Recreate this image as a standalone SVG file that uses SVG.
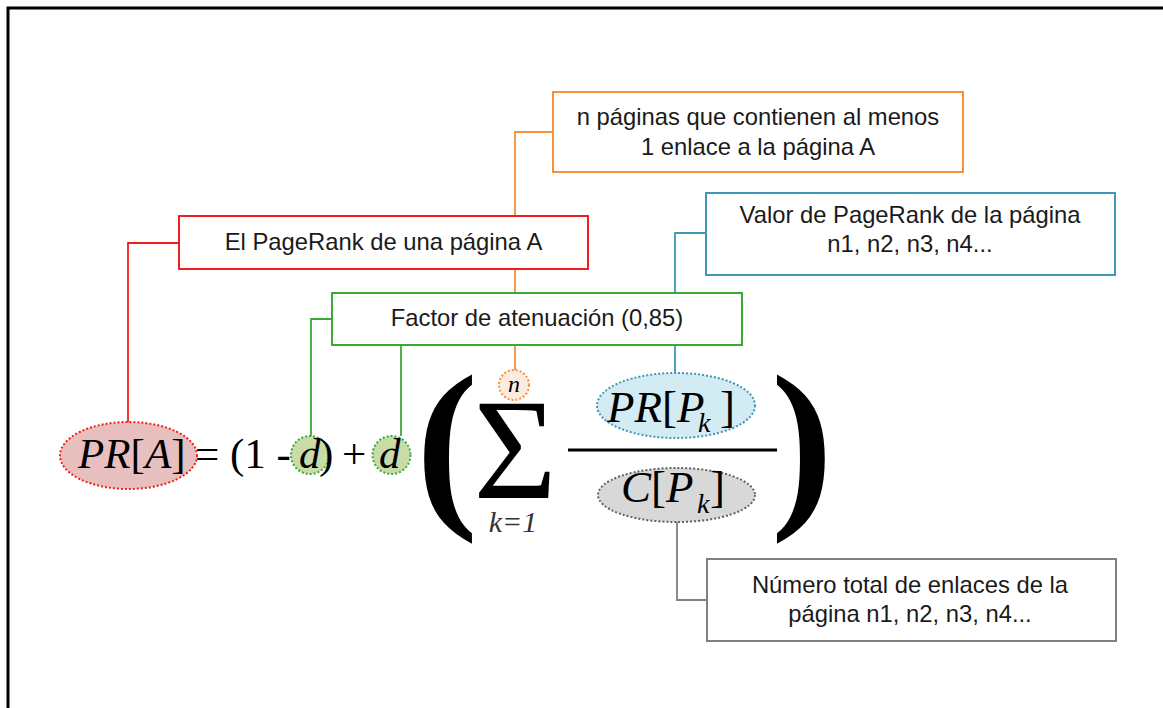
<svg xmlns="http://www.w3.org/2000/svg" width="1163" height="708" viewBox="0 0 1163 708">
  <style>
    .box { fill: #ffffff; stroke-width: 2; }
    .lbl { font-family: "Liberation Sans", Arial, sans-serif; font-size: 23.8px; fill: #1a1a1a; text-anchor: middle; }
    .conn { fill: none; stroke-width: 1.8; }
    .dot { stroke-width: 2; stroke-dasharray: 2 2; }
    .math { font-family: "Liberation Serif", "Times New Roman", serif; fill: #000000; }
    .it { font-style: italic; }
  </style>

  <rect width="1163" height="708" fill="#ffffff"/>
  <!-- frame -->
  <path d="M8,708 V8 H1163" fill="none" stroke="#000000" stroke-width="3"/>

  <!-- connectors -->
  <g id="connectors">
    <path class="conn" stroke="#F7923A" d="M553,132 H515 V370"/>
    <path class="conn" stroke="#F01E1E" d="M179,243 H128 V422"/>
    <path class="conn" stroke="#3AAA35" d="M332,319 H311 V436"/>
    <path class="conn" stroke="#3AAA35" d="M401,345 V436"/>
    <path class="conn" stroke="#3F97B5" d="M706,233 H675 V373"/>
    <path class="conn" stroke="#808080" d="M707,600 H677 V522"/>
  </g>

  <!-- label boxes -->
  <g id="box-n-paginas">
    <rect class="box" x="553" y="92" width="410" height="80" stroke="#F7923A"/>
    <text class="lbl" x="758" y="125">n páginas que contienen al menos</text>
    <text class="lbl" x="758" y="155">1 enlace a la página A</text>
  </g>
  <g id="box-pagerank-a">
    <rect class="box" x="179" y="216" width="409" height="53" stroke="#F01E1E"/>
    <text class="lbl" x="383.5" y="250">El PageRank de una página A</text>
  </g>
  <g id="box-factor">
    <rect class="box" x="332" y="293" width="410" height="52" stroke="#3AAA35"/>
    <text class="lbl" x="537" y="326">Factor de atenuación (0,85)</text>
  </g>
  <g id="box-valor">
    <rect class="box" x="706" y="193" width="409" height="82" stroke="#3F97B5"/>
    <text class="lbl" x="910" y="223">Valor de PageRank de la página</text>
    <text class="lbl" x="910" y="252">n1, n2, n3, n4...</text>
  </g>
  <g id="box-enlaces">
    <rect class="box" x="707" y="559" width="409" height="82" stroke="#808080"/>
    <text class="lbl" x="910" y="593">Número total de enlaces de la</text>
    <text class="lbl" x="910" y="622">página n1, n2, n3, n4...</text>
  </g>

  <!-- formula -->
  <g id="term-pr-a">
    <ellipse class="dot" cx="128.5" cy="455.5" rx="68.5" ry="33.5" fill="#E8BFBF" stroke="#F01E1E"/>
    <text class="math" font-size="43" x="78" y="468"><tspan class="it">PR</tspan>[<tspan class="it">A</tspan>]</text>
  </g>
  <g id="term-equals">
    <text class="math" font-size="43" x="195" y="468">= (1 -</text>
  </g>
  <g id="term-d1">
    <circle class="dot" cx="310" cy="455" r="19" fill="#C8DCA8" stroke="#3AAA35"/>
    <text class="math" font-size="43" x="299" y="468"><tspan class="it">d</tspan><tspan x="319">)</tspan></text>
  </g>
  <g id="term-plus">
    <text class="math" font-size="43" x="342" y="468">+</text>
  </g>
  <g id="term-d2">
    <circle class="dot" cx="391.5" cy="455" r="19" fill="#C8DCA8" stroke="#3AAA35"/>
    <text class="math it" font-size="43" x="379" y="468">d</text>
  </g>
  <g id="paren-left">
    <text class="math" font-size="186" font-weight="bold" x="416" y="504">(</text>
  </g>
  <!-- summation with its limits -->
  <g id="term-sum">
    <circle class="dot" cx="514" cy="385" r="15" fill="#FDEBDD" stroke="#F7923A"/>
    <text class="math" text-anchor="middle"><tspan class="it" font-size="24" x="514" y="392">n</tspan><tspan font-size="143" x="515" y="498">Σ</tspan><tspan class="it" font-size="30" x="513" y="532" fill="#333333">k=1</tspan></text>
  </g>
  <g id="term-pr-pk">
    <ellipse class="dot" cx="676" cy="405.5" rx="79" ry="32.5" fill="#D3EBF2" stroke="#3F97B5"/>
    <text class="math" font-size="45" x="607" y="422"><tspan class="it">PR</tspan>[<tspan class="it">P</tspan><tspan class="it" font-size="28" x="698" y="432">k</tspan><tspan x="720" y="422">]</tspan></text>
  </g>
  <line x1="568" y1="450" x2="777" y2="450" stroke="#000000" stroke-width="3"/>
  <g id="term-c-pk">
    <ellipse class="dot" cx="676.5" cy="495" rx="78.5" ry="27" fill="#D8D8D8" stroke="#606060"/>
    <text class="math" font-size="45" x="621" y="502"><tspan class="it">C</tspan>[<tspan class="it">P</tspan><tspan class="it" font-size="28" x="697" y="513">k</tspan><tspan x="710" y="502">]</tspan></text>
  </g>
  <g id="paren-right">
    <text class="math" font-size="186" font-weight="bold" x="771" y="504">)</text>
  </g>
</svg>
